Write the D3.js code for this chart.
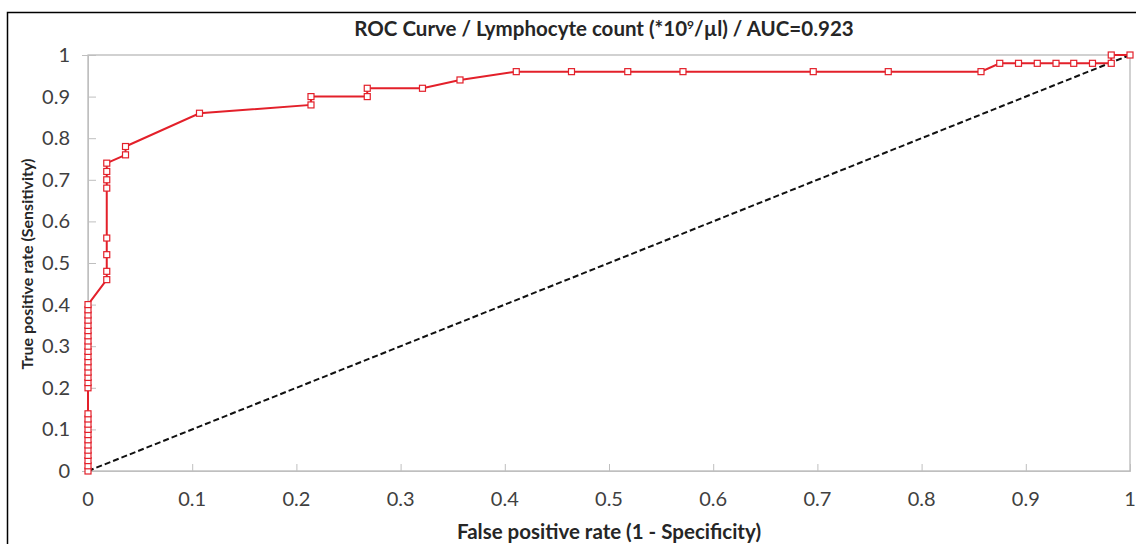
<!DOCTYPE html>
<html>
<head>
<meta charset="utf-8">
<script src="https://cdn.jsdelivr.net/npm/d3@7"></script>
<style>
  body { margin: 0; background: #fff; }
  text { font-family: Lato, "Open Sans", sans-serif; }
</style>
</head>
<body>
<svg id="chart" width="1136" height="544"></svg>
<script>
// ROC points (false positive rate, true positive rate)
let fpr = [0, 0, 0, 0, 0, 0, 0, 0, 0, 0, 0, 0,
  0, 0, 0, 0, 0, 0, 0, 0, 0, 0, 0, 0, 0, 0, 0, 0, 0,
  0.018, 0.018, 0.018, 0.018, 0.018, 0.018, 0.018, 0.018,
  0.036, 0.036, 0.107, 0.214, 0.214, 0.268, 0.268, 0.321, 0.357,
  0.411, 0.464, 0.518, 0.571, 0.696, 0.768, 0.857,
  0.875, 0.893, 0.911, 0.929, 0.946, 0.964, 0.982, 0.982, 1];
let tpr = [0, 0.0125, 0.025, 0.0375, 0.05, 0.0625, 0.075, 0.0875, 0.1, 0.1125, 0.125, 0.1375,
  0.2, 0.2125, 0.225, 0.2375, 0.25, 0.2625, 0.275, 0.2875, 0.3, 0.3125, 0.325, 0.3375, 0.35, 0.3625, 0.375, 0.3875, 0.4,
  0.46, 0.48, 0.52, 0.56, 0.68, 0.70, 0.72, 0.74,
  0.76, 0.78, 0.86, 0.88, 0.90, 0.90, 0.92, 0.92, 0.94,
  0.96, 0.96, 0.96, 0.96, 0.96, 0.96, 0.96,
  0.98, 0.98, 0.98, 0.98, 0.98, 0.98, 0.98, 1, 1];
let ticks = [0, 0.1, 0.2, 0.3, 0.4, 0.5, 0.6, 0.7, 0.8, 0.9, 1];
let chance = [0, 1];

let svg = d3.select("#chart");
let margin = {left: 88, right: 6, top: 55, bottom: 73};
let width = 1136, height = 544;

let x = d3.scaleLinear().domain([0, 1]).range([margin.left, width - margin.right]);
let y = d3.scaleLinear().domain([0, 1]).range([height - margin.bottom, margin.top]);
let fmt = d => d == 0 || d == 1 ? String(d) : d.toFixed(1);

// outer frame
svg.append("rect")
  .attr("x", 7.5).attr("y", 12.5)
  .attr("width", 1200).attr("height", 600)
  .style("fill", "none").style("stroke", "#000").style("stroke-width", 1.5);

// plot border (top / right)
svg.append("rect")
  .attr("x", x(0)).attr("y", y(1))
  .attr("width", x(1) - x(0)).attr("height", y(0) - y(1))
  .style("fill", "none").style("stroke", "#b3b3b3").style("stroke-width", 1.2);

// x axis
let xAxis = svg.append("g").attr("transform", "translate(0," + y(0) + ")")
  .call(d3.axisTop(x).tickValues(ticks).tickSize(7).tickFormat(""));
xAxis.selectAll(".tick").filter(d => d == 0).remove();
xAxis.select(".domain").style("stroke", "#bfbfbf");
xAxis.selectAll(".tick line").style("stroke", "#bfbfbf");
svg.append("g").selectAll("text")
  .data(ticks).enter().append("text")
  .attr("x", d => x(d)).attr("y", y(0) + 35)
  .attr("text-anchor", "middle")
  .style("font-size", "20px").style("fill", "#404040")
  .text(fmt);

// y axis
let yAxis = svg.append("g").attr("transform", "translate(" + x(0) + ",0)")
  .call(d3.axisLeft(y).tickValues(ticks).tickSize(6).tickFormat(""));
yAxis.select(".domain").style("stroke", "#bfbfbf");
yAxis.selectAll(".tick line").attr("x2", 8).style("stroke", "#bfbfbf");
svg.append("g").selectAll("text")
  .data(ticks).enter().append("text")
  .attr("x", x(0) - 18).attr("y", d => y(d) + 7)
  .attr("text-anchor", "end")
  .style("font-size", "20px").style("fill", "#404040")
  .text(fmt);

// chance diagonal
svg.append("line")
  .attr("x1", x(chance[0])).attr("y1", y(chance[0]))
  .attr("x2", x(chance[1])).attr("y2", y(chance[1]))
  .style("stroke", "#111").style("stroke-width", 2)
  .style("stroke-dasharray", "6,3");

// ROC curve
let points = fpr.map((d, i) => [d, tpr[i]]);
svg.append("path")
  .datum(points)
  .attr("d", d3.line().x(d => x(d[0])).y(d => y(d[1])))
  .style("fill", "none").style("stroke", "#e3202a").style("stroke-width", 2);

svg.selectAll(".pt")
  .data(points).enter().append("rect")
  .attr("class", "pt")
  .attr("x", d => x(d[0]) - 3).attr("y", d => y(d[1]) - 3)
  .attr("width", 6).attr("height", 6)
  .style("fill", "#fff").style("stroke", "#e3202a").style("stroke-width", 1.2);

// titles
let title = svg.append("text")
  .attr("x", 604).attr("y", 36)
  .attr("text-anchor", "middle")
  .style("font-size", "20.5px").style("font-weight", "bold").style("fill", "#262626");
title.append("tspan").text("ROC Curve / Lymphocyte count (*10");
title.append("tspan").attr("dy", -7).style("font-size", "12px").text("9");
title.append("tspan").attr("dy", 7).text("/µl) / AUC=0.923");

svg.append("text")
  .attr("x", 609).attr("y", 539)
  .attr("text-anchor", "middle")
  .style("font-size", "20.5px").style("font-weight", "bold").style("fill", "#262626")
  .text("False positive rate (1 - Specificity)");

svg.append("text")
  .attr("transform", "translate(33," + 264 + ") rotate(-90)")
  .attr("text-anchor", "middle")
  .style("font-size", "16px").style("font-weight", "bold").style("fill", "#262626")
  .text("True positive rate (Sensitivity)");
</script>
</body>
</html>
